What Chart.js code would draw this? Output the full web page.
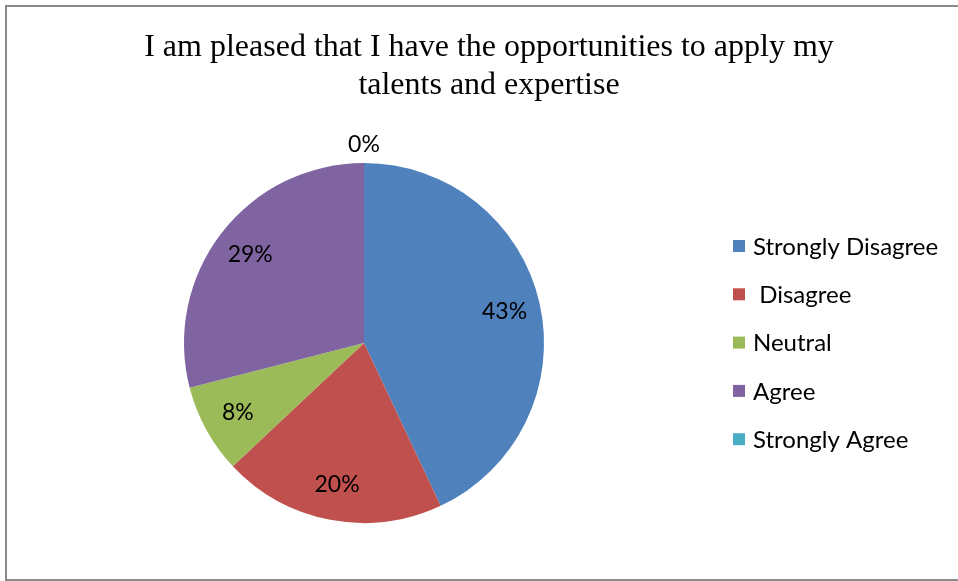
<!DOCTYPE html>
<html>
<head>
<meta charset="utf-8">
<script src="https://cdn.jsdelivr.net/npm/chart.js@4.4.0/dist/chart.umd.min.js"></script>
<style>
    html, body { margin: 0; padding: 0; background: #fff; overflow: hidden; }
    #box {
        position: absolute;
        left: 5px;
        top: 5px;
        width: 951px;
        height: 572px;
        border: 2px solid #8a8a8a;
        border-right: none;
        overflow: hidden;
    }
</style>
</head>
<body>
<div id="box"><canvas id="pieChart" width="966" height="572"></canvas></div>
<script>
const titleLines = ['I am pleased that I have the opportunities to apply my', 'talents and expertise'];
const categories = ['Strongly Disagree', ' Disagree', 'Neutral', 'Agree', 'Strongly Agree'];
const percentages = [43, 20, 8, 29, 0];
const sliceColors = ['#4F81BD', '#C0504D', '#9BBB59', '#8064A2', '#4BACC6'];

const labelFont = '24px Lato, "Open Sans", sans-serif';
const pctFont = '23px Lato, "Open Sans", sans-serif';

// two-line title centred over the whole frame, not only the pie
const frameTitle = {
    id: 'frameTitle',
    afterDraw(chart) {
        const ctx = chart.ctx;
        ctx.save();
        ctx.font = '32px "Liberation Serif", "Times New Roman", serif';
        ctx.fillStyle = '#000';
        ctx.textAlign = 'center';
        ctx.textBaseline = 'middle';
        titleLines.forEach((line, i) => ctx.fillText(line, 482, 41 + i * 38));
        ctx.restore();
    }
};

// percent labels inside each slice, zero slices just outside the rim
const sliceLabels = {
    id: 'sliceLabels',
    afterDatasetsDraw(chart) {
        const ctx = chart.ctx;
        const meta = chart.getDatasetMeta(0);
        ctx.save();
        ctx.font = pctFont;
        ctx.fillStyle = '#000';
        ctx.textAlign = 'center';
        ctx.textBaseline = 'middle';
        meta.data.forEach((arc, i) => {
            const p = arc.getProps(['x', 'y', 'startAngle', 'endAngle', 'outerRadius'], true);
            const mid = (p.startAngle + p.endAngle) / 2;
            const r = percentages[i] === 0 ? p.outerRadius + 18 : p.outerRadius * 0.8;
            ctx.fillText(percentages[i] + '%', p.x + Math.cos(mid) * r, p.y + Math.sin(mid) * r);
        });
        ctx.restore();
    }
};

// legend on the right, drawn by hand so it sits where the original one is
const sideLegend = {
    id: 'sideLegend',
    afterDraw(chart) {
        const ctx = chart.ctx;
        const left = 726;
        const firstRow = 239;
        const rowGap = 48.3;
        ctx.save();
        ctx.font = labelFont;
        ctx.textBaseline = 'middle';
        ctx.textAlign = 'left';
        categories.forEach((name, i) => {
            const y = firstRow + i * rowGap;
            ctx.fillStyle = sliceColors[i];
            ctx.fillRect(left, y - 6, 12, 12);
            ctx.fillStyle = '#000';
            ctx.fillText(name, left + 20, y + 1);
        });
        ctx.restore();
    }
};

const ctx = document.getElementById('pieChart').getContext('2d');
new Chart(ctx, {
    type: 'pie',
    data: {
        labels: categories,
        datasets: [{
            data: percentages,
            backgroundColor: sliceColors,
            borderWidth: 0
        }]
    },
    options: {
        responsive: false,
        animation: false,
        layout: {
            padding: { left: 177, right: 429, top: 156, bottom: 56 }
        },
        plugins: {
            legend: { display: false },
            tooltip: { enabled: false },
            title: { display: false }
        }
    },
    plugins: [frameTitle, sliceLabels, sideLegend]
});
</script>
</body>
</html>
